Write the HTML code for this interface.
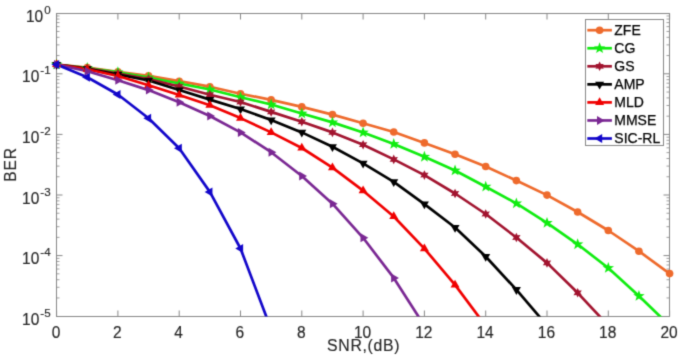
<!DOCTYPE html>
<html><head><meta charset="utf-8"><title>BER vs SNR</title>
<style>html,body{margin:0;padding:0;background:#fff;}body{width:685px;height:359px;overflow:hidden;font-family:"Liberation Sans",sans-serif;}svg{display:block;}</style>
</head><body>
<svg width="685" height="359" viewBox="0 0 685 359" font-family="'Liberation Sans', sans-serif">
<defs><filter id="bl" x="0" y="0" width="100%" height="100%" color-interpolation-filters="sRGB"><feConvolveMatrix order="3" kernelMatrix="0.02250 0.10500 0.02250 0.10500 0.49000 0.10500 0.02250 0.10500 0.02250" divisor="1" edgeMode="duplicate"/></filter><clipPath id="clip"><rect x="56.5" y="13.5" width="613.0" height="303.0"/></clipPath></defs>
<rect width="685" height="359" fill="#fff"/>
<g filter="url(#bl)" stroke-linecap="butt">
<rect width="685" height="359" fill="#fff"/>
<rect x="56.5" y="13.5" width="613.0" height="303.0" fill="#fff" stroke="#878787" stroke-width="1"/>
<line x1="56.60" y1="316.5" x2="56.60" y2="310.5" stroke="#878787" stroke-width="1"/>
<line x1="56.60" y1="13.5" x2="56.60" y2="19.5" stroke="#878787" stroke-width="1"/>
<line x1="117.90" y1="316.5" x2="117.90" y2="310.5" stroke="#878787" stroke-width="1"/>
<line x1="117.90" y1="13.5" x2="117.90" y2="19.5" stroke="#878787" stroke-width="1"/>
<line x1="179.20" y1="316.5" x2="179.20" y2="310.5" stroke="#878787" stroke-width="1"/>
<line x1="179.20" y1="13.5" x2="179.20" y2="19.5" stroke="#878787" stroke-width="1"/>
<line x1="240.50" y1="316.5" x2="240.50" y2="310.5" stroke="#878787" stroke-width="1"/>
<line x1="240.50" y1="13.5" x2="240.50" y2="19.5" stroke="#878787" stroke-width="1"/>
<line x1="301.80" y1="316.5" x2="301.80" y2="310.5" stroke="#878787" stroke-width="1"/>
<line x1="301.80" y1="13.5" x2="301.80" y2="19.5" stroke="#878787" stroke-width="1"/>
<line x1="363.10" y1="316.5" x2="363.10" y2="310.5" stroke="#878787" stroke-width="1"/>
<line x1="363.10" y1="13.5" x2="363.10" y2="19.5" stroke="#878787" stroke-width="1"/>
<line x1="424.40" y1="316.5" x2="424.40" y2="310.5" stroke="#878787" stroke-width="1"/>
<line x1="424.40" y1="13.5" x2="424.40" y2="19.5" stroke="#878787" stroke-width="1"/>
<line x1="485.70" y1="316.5" x2="485.70" y2="310.5" stroke="#878787" stroke-width="1"/>
<line x1="485.70" y1="13.5" x2="485.70" y2="19.5" stroke="#878787" stroke-width="1"/>
<line x1="547.00" y1="316.5" x2="547.00" y2="310.5" stroke="#878787" stroke-width="1"/>
<line x1="547.00" y1="13.5" x2="547.00" y2="19.5" stroke="#878787" stroke-width="1"/>
<line x1="608.30" y1="316.5" x2="608.30" y2="310.5" stroke="#878787" stroke-width="1"/>
<line x1="608.30" y1="13.5" x2="608.30" y2="19.5" stroke="#878787" stroke-width="1"/>
<line x1="669.60" y1="316.5" x2="669.60" y2="310.5" stroke="#878787" stroke-width="1"/>
<line x1="669.60" y1="13.5" x2="669.60" y2="19.5" stroke="#878787" stroke-width="1"/>
<line x1="56.5" y1="13.50" x2="62.5" y2="13.50" stroke="#878787" stroke-width="1"/>
<line x1="669.5" y1="13.50" x2="663.5" y2="13.50" stroke="#878787" stroke-width="1"/>
<line x1="56.5" y1="55.56" x2="59.5" y2="55.56" stroke="#878787" stroke-width="0.8"/>
<line x1="669.5" y1="55.56" x2="666.5" y2="55.56" stroke="#878787" stroke-width="0.8"/>
<line x1="56.5" y1="44.89" x2="59.5" y2="44.89" stroke="#878787" stroke-width="0.8"/>
<line x1="669.5" y1="44.89" x2="666.5" y2="44.89" stroke="#878787" stroke-width="0.8"/>
<line x1="56.5" y1="37.32" x2="59.5" y2="37.32" stroke="#878787" stroke-width="0.8"/>
<line x1="669.5" y1="37.32" x2="666.5" y2="37.32" stroke="#878787" stroke-width="0.8"/>
<line x1="56.5" y1="31.44" x2="59.5" y2="31.44" stroke="#878787" stroke-width="0.8"/>
<line x1="669.5" y1="31.44" x2="666.5" y2="31.44" stroke="#878787" stroke-width="0.8"/>
<line x1="56.5" y1="26.64" x2="59.5" y2="26.64" stroke="#878787" stroke-width="0.8"/>
<line x1="669.5" y1="26.64" x2="666.5" y2="26.64" stroke="#878787" stroke-width="0.8"/>
<line x1="56.5" y1="22.59" x2="59.5" y2="22.59" stroke="#878787" stroke-width="0.8"/>
<line x1="669.5" y1="22.59" x2="666.5" y2="22.59" stroke="#878787" stroke-width="0.8"/>
<line x1="56.5" y1="19.07" x2="59.5" y2="19.07" stroke="#878787" stroke-width="0.8"/>
<line x1="669.5" y1="19.07" x2="666.5" y2="19.07" stroke="#878787" stroke-width="0.8"/>
<line x1="56.5" y1="15.97" x2="59.5" y2="15.97" stroke="#878787" stroke-width="0.8"/>
<line x1="669.5" y1="15.97" x2="666.5" y2="15.97" stroke="#878787" stroke-width="0.8"/>
<line x1="56.5" y1="73.80" x2="62.5" y2="73.80" stroke="#878787" stroke-width="1"/>
<line x1="669.5" y1="73.80" x2="663.5" y2="73.80" stroke="#878787" stroke-width="1"/>
<line x1="56.5" y1="116.16" x2="59.5" y2="116.16" stroke="#878787" stroke-width="0.8"/>
<line x1="669.5" y1="116.16" x2="666.5" y2="116.16" stroke="#878787" stroke-width="0.8"/>
<line x1="56.5" y1="105.49" x2="59.5" y2="105.49" stroke="#878787" stroke-width="0.8"/>
<line x1="669.5" y1="105.49" x2="666.5" y2="105.49" stroke="#878787" stroke-width="0.8"/>
<line x1="56.5" y1="97.92" x2="59.5" y2="97.92" stroke="#878787" stroke-width="0.8"/>
<line x1="669.5" y1="97.92" x2="666.5" y2="97.92" stroke="#878787" stroke-width="0.8"/>
<line x1="56.5" y1="92.04" x2="59.5" y2="92.04" stroke="#878787" stroke-width="0.8"/>
<line x1="669.5" y1="92.04" x2="666.5" y2="92.04" stroke="#878787" stroke-width="0.8"/>
<line x1="56.5" y1="87.24" x2="59.5" y2="87.24" stroke="#878787" stroke-width="0.8"/>
<line x1="669.5" y1="87.24" x2="666.5" y2="87.24" stroke="#878787" stroke-width="0.8"/>
<line x1="56.5" y1="83.19" x2="59.5" y2="83.19" stroke="#878787" stroke-width="0.8"/>
<line x1="669.5" y1="83.19" x2="666.5" y2="83.19" stroke="#878787" stroke-width="0.8"/>
<line x1="56.5" y1="79.67" x2="59.5" y2="79.67" stroke="#878787" stroke-width="0.8"/>
<line x1="669.5" y1="79.67" x2="666.5" y2="79.67" stroke="#878787" stroke-width="0.8"/>
<line x1="56.5" y1="76.57" x2="59.5" y2="76.57" stroke="#878787" stroke-width="0.8"/>
<line x1="669.5" y1="76.57" x2="666.5" y2="76.57" stroke="#878787" stroke-width="0.8"/>
<line x1="56.5" y1="134.40" x2="62.5" y2="134.40" stroke="#878787" stroke-width="1"/>
<line x1="669.5" y1="134.40" x2="663.5" y2="134.40" stroke="#878787" stroke-width="1"/>
<line x1="56.5" y1="176.76" x2="59.5" y2="176.76" stroke="#878787" stroke-width="0.8"/>
<line x1="669.5" y1="176.76" x2="666.5" y2="176.76" stroke="#878787" stroke-width="0.8"/>
<line x1="56.5" y1="166.09" x2="59.5" y2="166.09" stroke="#878787" stroke-width="0.8"/>
<line x1="669.5" y1="166.09" x2="666.5" y2="166.09" stroke="#878787" stroke-width="0.8"/>
<line x1="56.5" y1="158.52" x2="59.5" y2="158.52" stroke="#878787" stroke-width="0.8"/>
<line x1="669.5" y1="158.52" x2="666.5" y2="158.52" stroke="#878787" stroke-width="0.8"/>
<line x1="56.5" y1="152.64" x2="59.5" y2="152.64" stroke="#878787" stroke-width="0.8"/>
<line x1="669.5" y1="152.64" x2="666.5" y2="152.64" stroke="#878787" stroke-width="0.8"/>
<line x1="56.5" y1="147.84" x2="59.5" y2="147.84" stroke="#878787" stroke-width="0.8"/>
<line x1="669.5" y1="147.84" x2="666.5" y2="147.84" stroke="#878787" stroke-width="0.8"/>
<line x1="56.5" y1="143.79" x2="59.5" y2="143.79" stroke="#878787" stroke-width="0.8"/>
<line x1="669.5" y1="143.79" x2="666.5" y2="143.79" stroke="#878787" stroke-width="0.8"/>
<line x1="56.5" y1="140.27" x2="59.5" y2="140.27" stroke="#878787" stroke-width="0.8"/>
<line x1="669.5" y1="140.27" x2="666.5" y2="140.27" stroke="#878787" stroke-width="0.8"/>
<line x1="56.5" y1="137.17" x2="59.5" y2="137.17" stroke="#878787" stroke-width="0.8"/>
<line x1="669.5" y1="137.17" x2="666.5" y2="137.17" stroke="#878787" stroke-width="0.8"/>
<line x1="56.5" y1="195.00" x2="62.5" y2="195.00" stroke="#878787" stroke-width="1"/>
<line x1="669.5" y1="195.00" x2="663.5" y2="195.00" stroke="#878787" stroke-width="1"/>
<line x1="56.5" y1="237.36" x2="59.5" y2="237.36" stroke="#878787" stroke-width="0.8"/>
<line x1="669.5" y1="237.36" x2="666.5" y2="237.36" stroke="#878787" stroke-width="0.8"/>
<line x1="56.5" y1="226.69" x2="59.5" y2="226.69" stroke="#878787" stroke-width="0.8"/>
<line x1="669.5" y1="226.69" x2="666.5" y2="226.69" stroke="#878787" stroke-width="0.8"/>
<line x1="56.5" y1="219.12" x2="59.5" y2="219.12" stroke="#878787" stroke-width="0.8"/>
<line x1="669.5" y1="219.12" x2="666.5" y2="219.12" stroke="#878787" stroke-width="0.8"/>
<line x1="56.5" y1="213.24" x2="59.5" y2="213.24" stroke="#878787" stroke-width="0.8"/>
<line x1="669.5" y1="213.24" x2="666.5" y2="213.24" stroke="#878787" stroke-width="0.8"/>
<line x1="56.5" y1="208.44" x2="59.5" y2="208.44" stroke="#878787" stroke-width="0.8"/>
<line x1="669.5" y1="208.44" x2="666.5" y2="208.44" stroke="#878787" stroke-width="0.8"/>
<line x1="56.5" y1="204.39" x2="59.5" y2="204.39" stroke="#878787" stroke-width="0.8"/>
<line x1="669.5" y1="204.39" x2="666.5" y2="204.39" stroke="#878787" stroke-width="0.8"/>
<line x1="56.5" y1="200.87" x2="59.5" y2="200.87" stroke="#878787" stroke-width="0.8"/>
<line x1="669.5" y1="200.87" x2="666.5" y2="200.87" stroke="#878787" stroke-width="0.8"/>
<line x1="56.5" y1="197.77" x2="59.5" y2="197.77" stroke="#878787" stroke-width="0.8"/>
<line x1="669.5" y1="197.77" x2="666.5" y2="197.77" stroke="#878787" stroke-width="0.8"/>
<line x1="56.5" y1="255.60" x2="62.5" y2="255.60" stroke="#878787" stroke-width="1"/>
<line x1="669.5" y1="255.60" x2="663.5" y2="255.60" stroke="#878787" stroke-width="1"/>
<line x1="56.5" y1="297.96" x2="59.5" y2="297.96" stroke="#878787" stroke-width="0.8"/>
<line x1="669.5" y1="297.96" x2="666.5" y2="297.96" stroke="#878787" stroke-width="0.8"/>
<line x1="56.5" y1="287.29" x2="59.5" y2="287.29" stroke="#878787" stroke-width="0.8"/>
<line x1="669.5" y1="287.29" x2="666.5" y2="287.29" stroke="#878787" stroke-width="0.8"/>
<line x1="56.5" y1="279.72" x2="59.5" y2="279.72" stroke="#878787" stroke-width="0.8"/>
<line x1="669.5" y1="279.72" x2="666.5" y2="279.72" stroke="#878787" stroke-width="0.8"/>
<line x1="56.5" y1="273.84" x2="59.5" y2="273.84" stroke="#878787" stroke-width="0.8"/>
<line x1="669.5" y1="273.84" x2="666.5" y2="273.84" stroke="#878787" stroke-width="0.8"/>
<line x1="56.5" y1="269.04" x2="59.5" y2="269.04" stroke="#878787" stroke-width="0.8"/>
<line x1="669.5" y1="269.04" x2="666.5" y2="269.04" stroke="#878787" stroke-width="0.8"/>
<line x1="56.5" y1="264.99" x2="59.5" y2="264.99" stroke="#878787" stroke-width="0.8"/>
<line x1="669.5" y1="264.99" x2="666.5" y2="264.99" stroke="#878787" stroke-width="0.8"/>
<line x1="56.5" y1="261.47" x2="59.5" y2="261.47" stroke="#878787" stroke-width="0.8"/>
<line x1="669.5" y1="261.47" x2="666.5" y2="261.47" stroke="#878787" stroke-width="0.8"/>
<line x1="56.5" y1="258.37" x2="59.5" y2="258.37" stroke="#878787" stroke-width="0.8"/>
<line x1="669.5" y1="258.37" x2="666.5" y2="258.37" stroke="#878787" stroke-width="0.8"/>
<line x1="56.5" y1="316.50" x2="62.5" y2="316.50" stroke="#878787" stroke-width="1"/>
<line x1="669.5" y1="316.50" x2="663.5" y2="316.50" stroke="#878787" stroke-width="1"/>
<g clip-path="url(#clip)" fill="none" stroke-width="2.7" stroke-linejoin="round">
<polyline points="56.60,64.50 87.25,67.50 117.90,71.80 148.55,75.80 179.20,81.20 209.85,86.70 240.50,93.70 271.15,99.90 301.80,106.90 332.45,114.60 363.10,123.30 393.75,132.00 424.40,142.90 455.05,154.20 485.70,166.50 516.35,180.60 547.00,195.10 577.65,212.00 608.30,230.50 638.95,251.20 669.60,273.60" stroke="#EE6A2C"/>
<polyline points="56.60,64.50 87.25,68.00 117.90,72.30 148.55,77.50 179.20,83.50 209.85,89.50 240.50,97.20 271.15,104.50 301.80,113.50 332.45,122.40 363.10,132.50 393.75,144.00 424.40,156.80 455.05,170.50 485.70,186.70 516.35,203.40 547.00,222.90 577.65,244.30 608.30,268.00 638.95,296.00 669.60,325.60" stroke="#10EC10"/>
<polyline points="56.60,64.50 87.25,68.30 117.90,73.50 148.55,79.10 179.20,86.50 209.85,94.70 240.50,102.00 271.15,111.90 301.80,121.80 332.45,132.40 363.10,144.70 393.75,159.40 424.40,175.10 455.05,193.50 485.70,214.00 516.35,237.50 547.00,262.90 577.65,292.80 608.30,325.60" stroke="#A2142F"/>
<polyline points="56.60,64.50 87.25,68.80 117.90,74.50 148.55,80.50 179.20,90.00 209.85,99.60 240.50,109.00 271.15,120.00 301.80,132.40 332.45,146.80 363.10,163.40 393.75,181.80 424.40,204.10 455.05,227.50 485.70,256.50 516.35,289.70 547.00,325.50" stroke="#000000"/>
<polyline points="56.60,64.50 87.25,69.30 117.90,76.00 148.55,85.30 179.20,95.00 209.85,105.20 240.50,118.10 271.15,132.40 301.80,148.00 332.45,167.60 363.10,190.70 393.75,216.50 424.40,248.60 455.05,284.90 485.70,325.90" stroke="#F00000"/>
<polyline points="56.60,64.50 87.25,71.20 117.90,80.30 148.55,90.10 179.20,102.20 209.85,116.00 240.50,132.40 271.15,152.20 301.80,176.00 332.45,203.70 363.10,237.80 393.75,277.90 424.40,325.80" stroke="#7A2893"/>
<polyline points="56.60,64.50 87.25,77.20 117.90,94.50 148.55,118.20 179.20,148.30 209.85,191.90 240.50,248.50 271.15,329.30" stroke="#1206CA"/>
</g>
<circle cx="56.60" cy="64.50" r="3.8" fill="#EE6A2C"/>
<circle cx="87.25" cy="67.50" r="3.8" fill="#EE6A2C"/>
<circle cx="117.90" cy="71.80" r="3.8" fill="#EE6A2C"/>
<circle cx="148.55" cy="75.80" r="3.8" fill="#EE6A2C"/>
<circle cx="179.20" cy="81.20" r="3.8" fill="#EE6A2C"/>
<circle cx="209.85" cy="86.70" r="3.8" fill="#EE6A2C"/>
<circle cx="240.50" cy="93.70" r="3.8" fill="#EE6A2C"/>
<circle cx="271.15" cy="99.90" r="3.8" fill="#EE6A2C"/>
<circle cx="301.80" cy="106.90" r="3.8" fill="#EE6A2C"/>
<circle cx="332.45" cy="114.60" r="3.8" fill="#EE6A2C"/>
<circle cx="363.10" cy="123.30" r="3.8" fill="#EE6A2C"/>
<circle cx="393.75" cy="132.00" r="3.8" fill="#EE6A2C"/>
<circle cx="424.40" cy="142.90" r="3.8" fill="#EE6A2C"/>
<circle cx="455.05" cy="154.20" r="3.8" fill="#EE6A2C"/>
<circle cx="485.70" cy="166.50" r="3.8" fill="#EE6A2C"/>
<circle cx="516.35" cy="180.60" r="3.8" fill="#EE6A2C"/>
<circle cx="547.00" cy="195.10" r="3.8" fill="#EE6A2C"/>
<circle cx="577.65" cy="212.00" r="3.8" fill="#EE6A2C"/>
<circle cx="608.30" cy="230.50" r="3.8" fill="#EE6A2C"/>
<circle cx="638.95" cy="251.20" r="3.8" fill="#EE6A2C"/>
<circle cx="669.60" cy="273.60" r="3.8" fill="#EE6A2C"/>
<polygon points="56.60,58.50 58.01,62.56 62.31,62.65 58.88,65.24 60.13,69.35 56.60,66.90 53.07,69.35 54.32,65.24 50.89,62.65 55.19,62.56" fill="#10EC10"/>
<polygon points="87.25,62.00 88.66,66.06 92.96,66.15 89.53,68.74 90.78,72.85 87.25,70.40 83.72,72.85 84.97,68.74 81.54,66.15 85.84,66.06" fill="#10EC10"/>
<polygon points="117.90,66.30 119.31,70.36 123.61,70.45 120.18,73.04 121.43,77.15 117.90,74.70 114.37,77.15 115.62,73.04 112.19,70.45 116.49,70.36" fill="#10EC10"/>
<polygon points="148.55,71.50 149.96,75.56 154.26,75.65 150.83,78.24 152.08,82.35 148.55,79.90 145.02,82.35 146.27,78.24 142.84,75.65 147.14,75.56" fill="#10EC10"/>
<polygon points="179.20,77.50 180.61,81.56 184.91,81.65 181.48,84.24 182.73,88.35 179.20,85.90 175.67,88.35 176.92,84.24 173.49,81.65 177.79,81.56" fill="#10EC10"/>
<polygon points="209.85,83.50 211.26,87.56 215.56,87.65 212.13,90.24 213.38,94.35 209.85,91.90 206.32,94.35 207.57,90.24 204.14,87.65 208.44,87.56" fill="#10EC10"/>
<polygon points="240.50,91.20 241.91,95.26 246.21,95.35 242.78,97.94 244.03,102.05 240.50,99.60 236.97,102.05 238.22,97.94 234.79,95.35 239.09,95.26" fill="#10EC10"/>
<polygon points="271.15,98.50 272.56,102.56 276.86,102.65 273.43,105.24 274.68,109.35 271.15,106.90 267.62,109.35 268.87,105.24 265.44,102.65 269.74,102.56" fill="#10EC10"/>
<polygon points="301.80,107.50 303.21,111.56 307.51,111.65 304.08,114.24 305.33,118.35 301.80,115.90 298.27,118.35 299.52,114.24 296.09,111.65 300.39,111.56" fill="#10EC10"/>
<polygon points="332.45,116.40 333.86,120.46 338.16,120.55 334.73,123.14 335.98,127.25 332.45,124.80 328.92,127.25 330.17,123.14 326.74,120.55 331.04,120.46" fill="#10EC10"/>
<polygon points="363.10,126.50 364.51,130.56 368.81,130.65 365.38,133.24 366.63,137.35 363.10,134.90 359.57,137.35 360.82,133.24 357.39,130.65 361.69,130.56" fill="#10EC10"/>
<polygon points="393.75,138.00 395.16,142.06 399.46,142.15 396.03,144.74 397.28,148.85 393.75,146.40 390.22,148.85 391.47,144.74 388.04,142.15 392.34,142.06" fill="#10EC10"/>
<polygon points="424.40,150.80 425.81,154.86 430.11,154.95 426.68,157.54 427.93,161.65 424.40,159.20 420.87,161.65 422.12,157.54 418.69,154.95 422.99,154.86" fill="#10EC10"/>
<polygon points="455.05,164.50 456.46,168.56 460.76,168.65 457.33,171.24 458.58,175.35 455.05,172.90 451.52,175.35 452.77,171.24 449.34,168.65 453.64,168.56" fill="#10EC10"/>
<polygon points="485.70,180.70 487.11,184.76 491.41,184.85 487.98,187.44 489.23,191.55 485.70,189.10 482.17,191.55 483.42,187.44 479.99,184.85 484.29,184.76" fill="#10EC10"/>
<polygon points="516.35,197.40 517.76,201.46 522.06,201.55 518.63,204.14 519.88,208.25 516.35,205.80 512.82,208.25 514.07,204.14 510.64,201.55 514.94,201.46" fill="#10EC10"/>
<polygon points="547.00,216.90 548.41,220.96 552.71,221.05 549.28,223.64 550.53,227.75 547.00,225.30 543.47,227.75 544.72,223.64 541.29,221.05 545.59,220.96" fill="#10EC10"/>
<polygon points="577.65,238.30 579.06,242.36 583.36,242.45 579.93,245.04 581.18,249.15 577.65,246.70 574.12,249.15 575.37,245.04 571.94,242.45 576.24,242.36" fill="#10EC10"/>
<polygon points="608.30,262.00 609.71,266.06 614.01,266.15 610.58,268.74 611.83,272.85 608.30,270.40 604.77,272.85 606.02,268.74 602.59,266.15 606.89,266.06" fill="#10EC10"/>
<polygon points="638.95,290.00 640.36,294.06 644.66,294.15 641.23,296.74 642.48,300.85 638.95,298.40 635.42,300.85 636.67,296.74 633.24,294.15 637.54,294.06" fill="#10EC10"/>
<polygon points="56.60,59.70 57.90,62.25 60.76,62.10 59.20,64.50 60.76,66.90 57.90,66.75 56.60,69.30 55.30,66.75 52.44,66.90 54.00,64.50 52.44,62.10 55.30,62.25" fill="#A2142F"/>
<polygon points="87.25,63.50 88.55,66.05 91.41,65.90 89.85,68.30 91.41,70.70 88.55,70.55 87.25,73.10 85.95,70.55 83.09,70.70 84.65,68.30 83.09,65.90 85.95,66.05" fill="#A2142F"/>
<polygon points="117.90,68.70 119.20,71.25 122.06,71.10 120.50,73.50 122.06,75.90 119.20,75.75 117.90,78.30 116.60,75.75 113.74,75.90 115.30,73.50 113.74,71.10 116.60,71.25" fill="#A2142F"/>
<polygon points="148.55,74.30 149.85,76.85 152.71,76.70 151.15,79.10 152.71,81.50 149.85,81.35 148.55,83.90 147.25,81.35 144.39,81.50 145.95,79.10 144.39,76.70 147.25,76.85" fill="#A2142F"/>
<polygon points="179.20,81.70 180.50,84.25 183.36,84.10 181.80,86.50 183.36,88.90 180.50,88.75 179.20,91.30 177.90,88.75 175.04,88.90 176.60,86.50 175.04,84.10 177.90,84.25" fill="#A2142F"/>
<polygon points="209.85,89.90 211.15,92.45 214.01,92.30 212.45,94.70 214.01,97.10 211.15,96.95 209.85,99.50 208.55,96.95 205.69,97.10 207.25,94.70 205.69,92.30 208.55,92.45" fill="#A2142F"/>
<polygon points="240.50,97.20 241.80,99.75 244.66,99.60 243.10,102.00 244.66,104.40 241.80,104.25 240.50,106.80 239.20,104.25 236.34,104.40 237.90,102.00 236.34,99.60 239.20,99.75" fill="#A2142F"/>
<polygon points="271.15,107.10 272.45,109.65 275.31,109.50 273.75,111.90 275.31,114.30 272.45,114.15 271.15,116.70 269.85,114.15 266.99,114.30 268.55,111.90 266.99,109.50 269.85,109.65" fill="#A2142F"/>
<polygon points="301.80,117.00 303.10,119.55 305.96,119.40 304.40,121.80 305.96,124.20 303.10,124.05 301.80,126.60 300.50,124.05 297.64,124.20 299.20,121.80 297.64,119.40 300.50,119.55" fill="#A2142F"/>
<polygon points="332.45,127.60 333.75,130.15 336.61,130.00 335.05,132.40 336.61,134.80 333.75,134.65 332.45,137.20 331.15,134.65 328.29,134.80 329.85,132.40 328.29,130.00 331.15,130.15" fill="#A2142F"/>
<polygon points="363.10,139.90 364.40,142.45 367.26,142.30 365.70,144.70 367.26,147.10 364.40,146.95 363.10,149.50 361.80,146.95 358.94,147.10 360.50,144.70 358.94,142.30 361.80,142.45" fill="#A2142F"/>
<polygon points="393.75,154.60 395.05,157.15 397.91,157.00 396.35,159.40 397.91,161.80 395.05,161.65 393.75,164.20 392.45,161.65 389.59,161.80 391.15,159.40 389.59,157.00 392.45,157.15" fill="#A2142F"/>
<polygon points="424.40,170.30 425.70,172.85 428.56,172.70 427.00,175.10 428.56,177.50 425.70,177.35 424.40,179.90 423.10,177.35 420.24,177.50 421.80,175.10 420.24,172.70 423.10,172.85" fill="#A2142F"/>
<polygon points="455.05,188.70 456.35,191.25 459.21,191.10 457.65,193.50 459.21,195.90 456.35,195.75 455.05,198.30 453.75,195.75 450.89,195.90 452.45,193.50 450.89,191.10 453.75,191.25" fill="#A2142F"/>
<polygon points="485.70,209.20 487.00,211.75 489.86,211.60 488.30,214.00 489.86,216.40 487.00,216.25 485.70,218.80 484.40,216.25 481.54,216.40 483.10,214.00 481.54,211.60 484.40,211.75" fill="#A2142F"/>
<polygon points="516.35,232.70 517.65,235.25 520.51,235.10 518.95,237.50 520.51,239.90 517.65,239.75 516.35,242.30 515.05,239.75 512.19,239.90 513.75,237.50 512.19,235.10 515.05,235.25" fill="#A2142F"/>
<polygon points="547.00,258.10 548.30,260.65 551.16,260.50 549.60,262.90 551.16,265.30 548.30,265.15 547.00,267.70 545.70,265.15 542.84,265.30 544.40,262.90 542.84,260.50 545.70,260.65" fill="#A2142F"/>
<polygon points="577.65,288.00 578.95,290.55 581.81,290.40 580.25,292.80 581.81,295.20 578.95,295.05 577.65,297.60 576.35,295.05 573.49,295.20 575.05,292.80 573.49,290.40 576.35,290.55" fill="#A2142F"/>
<polygon points="56.60,69.70 61.10,61.90 52.10,61.90" fill="#000000"/>
<polygon points="87.25,74.00 91.75,66.20 82.75,66.20" fill="#000000"/>
<polygon points="117.90,79.70 122.40,71.90 113.40,71.90" fill="#000000"/>
<polygon points="148.55,85.70 153.05,77.90 144.05,77.90" fill="#000000"/>
<polygon points="179.20,95.20 183.70,87.40 174.70,87.40" fill="#000000"/>
<polygon points="209.85,104.80 214.35,97.00 205.35,97.00" fill="#000000"/>
<polygon points="240.50,114.20 245.00,106.40 236.00,106.40" fill="#000000"/>
<polygon points="271.15,125.20 275.65,117.40 266.65,117.40" fill="#000000"/>
<polygon points="301.80,137.60 306.30,129.80 297.30,129.80" fill="#000000"/>
<polygon points="332.45,152.00 336.95,144.20 327.95,144.20" fill="#000000"/>
<polygon points="363.10,168.60 367.60,160.80 358.60,160.80" fill="#000000"/>
<polygon points="393.75,187.00 398.25,179.20 389.25,179.20" fill="#000000"/>
<polygon points="424.40,209.30 428.90,201.50 419.90,201.50" fill="#000000"/>
<polygon points="455.05,232.70 459.55,224.90 450.55,224.90" fill="#000000"/>
<polygon points="485.70,261.70 490.20,253.90 481.20,253.90" fill="#000000"/>
<polygon points="516.35,294.90 520.85,287.10 511.85,287.10" fill="#000000"/>
<polygon points="56.60,59.30 61.10,67.10 52.10,67.10" fill="#F00000"/>
<polygon points="87.25,64.10 91.75,71.90 82.75,71.90" fill="#F00000"/>
<polygon points="117.90,70.80 122.40,78.60 113.40,78.60" fill="#F00000"/>
<polygon points="148.55,80.10 153.05,87.90 144.05,87.90" fill="#F00000"/>
<polygon points="179.20,89.80 183.70,97.60 174.70,97.60" fill="#F00000"/>
<polygon points="209.85,100.00 214.35,107.80 205.35,107.80" fill="#F00000"/>
<polygon points="240.50,112.90 245.00,120.70 236.00,120.70" fill="#F00000"/>
<polygon points="271.15,127.20 275.65,135.00 266.65,135.00" fill="#F00000"/>
<polygon points="301.80,142.80 306.30,150.60 297.30,150.60" fill="#F00000"/>
<polygon points="332.45,162.40 336.95,170.20 327.95,170.20" fill="#F00000"/>
<polygon points="363.10,185.50 367.60,193.30 358.60,193.30" fill="#F00000"/>
<polygon points="393.75,211.30 398.25,219.10 389.25,219.10" fill="#F00000"/>
<polygon points="424.40,243.40 428.90,251.20 419.90,251.20" fill="#F00000"/>
<polygon points="455.05,279.70 459.55,287.50 450.55,287.50" fill="#F00000"/>
<polygon points="61.80,64.50 54.00,60.00 54.00,69.00" fill="#7A2893"/>
<polygon points="92.45,71.20 84.65,66.70 84.65,75.70" fill="#7A2893"/>
<polygon points="123.10,80.30 115.30,75.80 115.30,84.80" fill="#7A2893"/>
<polygon points="153.75,90.10 145.95,85.60 145.95,94.60" fill="#7A2893"/>
<polygon points="184.40,102.20 176.60,97.70 176.60,106.70" fill="#7A2893"/>
<polygon points="215.05,116.00 207.25,111.50 207.25,120.50" fill="#7A2893"/>
<polygon points="245.70,132.40 237.90,127.90 237.90,136.90" fill="#7A2893"/>
<polygon points="276.35,152.20 268.55,147.70 268.55,156.70" fill="#7A2893"/>
<polygon points="307.00,176.00 299.20,171.50 299.20,180.50" fill="#7A2893"/>
<polygon points="337.65,203.70 329.85,199.20 329.85,208.20" fill="#7A2893"/>
<polygon points="368.30,237.80 360.50,233.30 360.50,242.30" fill="#7A2893"/>
<polygon points="398.95,277.90 391.15,273.40 391.15,282.40" fill="#7A2893"/>
<polygon points="51.40,64.50 59.20,60.00 59.20,69.00" fill="#1206CA"/>
<polygon points="82.05,77.20 89.85,72.70 89.85,81.70" fill="#1206CA"/>
<polygon points="112.70,94.50 120.50,90.00 120.50,99.00" fill="#1206CA"/>
<polygon points="143.35,118.20 151.15,113.70 151.15,122.70" fill="#1206CA"/>
<polygon points="174.00,148.30 181.80,143.80 181.80,152.80" fill="#1206CA"/>
<polygon points="204.65,191.90 212.45,187.40 212.45,196.40" fill="#1206CA"/>
<polygon points="235.30,248.50 243.10,244.00 243.10,253.00" fill="#1206CA"/>
<text transform="translate(56.00,338.2) scale(1,1.07)" text-anchor="middle" font-size="15.5" fill="#262626" stroke="#262626" stroke-width="0.15">0</text>
<text transform="translate(117.30,338.2) scale(1,1.07)" text-anchor="middle" font-size="15.5" fill="#262626" stroke="#262626" stroke-width="0.15">2</text>
<text transform="translate(178.60,338.2) scale(1,1.07)" text-anchor="middle" font-size="15.5" fill="#262626" stroke="#262626" stroke-width="0.15">4</text>
<text transform="translate(239.90,338.2) scale(1,1.07)" text-anchor="middle" font-size="15.5" fill="#262626" stroke="#262626" stroke-width="0.15">6</text>
<text transform="translate(301.20,338.2) scale(1,1.07)" text-anchor="middle" font-size="15.5" fill="#262626" stroke="#262626" stroke-width="0.15">8</text>
<text transform="translate(362.50,338.2) scale(1,1.07)" text-anchor="middle" font-size="15.5" fill="#262626" stroke="#262626" stroke-width="0.15">10</text>
<text transform="translate(423.80,338.2) scale(1,1.07)" text-anchor="middle" font-size="15.5" fill="#262626" stroke="#262626" stroke-width="0.15">12</text>
<text transform="translate(485.10,338.2) scale(1,1.07)" text-anchor="middle" font-size="15.5" fill="#262626" stroke="#262626" stroke-width="0.15">14</text>
<text transform="translate(546.40,338.2) scale(1,1.07)" text-anchor="middle" font-size="15.5" fill="#262626" stroke="#262626" stroke-width="0.15">16</text>
<text transform="translate(607.70,338.2) scale(1,1.07)" text-anchor="middle" font-size="15.5" fill="#262626" stroke="#262626" stroke-width="0.15">18</text>
<text transform="translate(669.00,338.2) scale(1,1.07)" text-anchor="middle" font-size="15.5" fill="#262626" stroke="#262626" stroke-width="0.15">20</text>
<text transform="translate(43.15,21.80) scale(1,1.1)" text-anchor="end" font-size="15.5" fill="#262626" stroke="#262626" stroke-width="0.15">10</text>
<text x="50.6" y="13.80" text-anchor="end" font-size="11.6" fill="#262626" stroke="#262626" stroke-width="0.15">0</text>
<text transform="translate(39.29,82.40) scale(1,1.1)" text-anchor="end" font-size="15.5" fill="#262626" stroke="#262626" stroke-width="0.15">10</text>
<text x="50.6" y="74.40" text-anchor="end" font-size="11.6" fill="#262626" stroke="#262626" stroke-width="0.15">-1</text>
<text transform="translate(39.29,143.00) scale(1,1.1)" text-anchor="end" font-size="15.5" fill="#262626" stroke="#262626" stroke-width="0.15">10</text>
<text x="50.6" y="135.00" text-anchor="end" font-size="11.6" fill="#262626" stroke="#262626" stroke-width="0.15">-2</text>
<text transform="translate(39.29,203.60) scale(1,1.1)" text-anchor="end" font-size="15.5" fill="#262626" stroke="#262626" stroke-width="0.15">10</text>
<text x="50.6" y="195.60" text-anchor="end" font-size="11.6" fill="#262626" stroke="#262626" stroke-width="0.15">-3</text>
<text transform="translate(39.29,264.20) scale(1,1.1)" text-anchor="end" font-size="15.5" fill="#262626" stroke="#262626" stroke-width="0.15">10</text>
<text x="50.6" y="256.20" text-anchor="end" font-size="11.6" fill="#262626" stroke="#262626" stroke-width="0.15">-4</text>
<text transform="translate(39.29,324.80) scale(1,1.1)" text-anchor="end" font-size="15.5" fill="#262626" stroke="#262626" stroke-width="0.15">10</text>
<text x="50.6" y="316.80" text-anchor="end" font-size="11.6" fill="#262626" stroke="#262626" stroke-width="0.15">-5</text>
<text x="327.0" y="350.8" font-size="15.8" textLength="72.6" lengthAdjust="spacing" fill="#262626" stroke="#262626" stroke-width="0.15">SNR,(dB)</text>
<text transform="translate(15.7,181.7) rotate(-90)" font-size="15.6" textLength="33.8" lengthAdjust="spacing" fill="#262626" stroke="#262626" stroke-width="0.15">BER</text>
<rect x="585.5" y="19.5" width="78.0" height="126.0" fill="#fff" stroke="#878787" stroke-width="1"/>
<line x1="587.3" y1="30.20" x2="611.9" y2="30.20" stroke="#EE6A2C" stroke-width="2.7"/>
<circle cx="599.60" cy="30.20" r="3.8" fill="#EE6A2C"/>
<text x="614.3" y="35.00" font-size="14" fill="#000" stroke="#000" stroke-width="0.25">ZFE</text>
<line x1="587.3" y1="48.25" x2="611.9" y2="48.25" stroke="#10EC10" stroke-width="2.7"/>
<polygon points="599.60,42.25 601.01,46.31 605.31,46.40 601.88,48.99 603.13,53.10 599.60,50.65 596.07,53.10 597.32,48.99 593.89,46.40 598.19,46.31" fill="#10EC10"/>
<text x="614.3" y="53.05" font-size="14" fill="#000" stroke="#000" stroke-width="0.25">CG</text>
<line x1="587.3" y1="66.30" x2="611.9" y2="66.30" stroke="#A2142F" stroke-width="2.7"/>
<polygon points="599.60,61.50 600.90,64.05 603.76,63.90 602.20,66.30 603.76,68.70 600.90,68.55 599.60,71.10 598.30,68.55 595.44,68.70 597.00,66.30 595.44,63.90 598.30,64.05" fill="#A2142F"/>
<text x="614.3" y="71.10" font-size="14" fill="#000" stroke="#000" stroke-width="0.25">GS</text>
<line x1="587.3" y1="84.35" x2="611.9" y2="84.35" stroke="#000000" stroke-width="2.7"/>
<polygon points="599.60,89.55 604.10,81.75 595.10,81.75" fill="#000000"/>
<text x="614.3" y="89.15" font-size="14" fill="#000" stroke="#000" stroke-width="0.25">AMP</text>
<line x1="587.3" y1="102.40" x2="611.9" y2="102.40" stroke="#F00000" stroke-width="2.7"/>
<polygon points="599.60,97.20 604.10,105.00 595.10,105.00" fill="#F00000"/>
<text x="614.3" y="107.20" font-size="14" fill="#000" stroke="#000" stroke-width="0.25">MLD</text>
<line x1="587.3" y1="120.45" x2="611.9" y2="120.45" stroke="#7A2893" stroke-width="2.7"/>
<polygon points="604.80,120.45 597.00,115.95 597.00,124.95" fill="#7A2893"/>
<text x="614.3" y="125.25" font-size="14" fill="#000" stroke="#000" stroke-width="0.25">MMSE</text>
<line x1="587.3" y1="138.50" x2="611.9" y2="138.50" stroke="#1206CA" stroke-width="2.7"/>
<polygon points="594.40,138.50 602.20,134.00 602.20,143.00" fill="#1206CA"/>
<text x="614.3" y="143.30" font-size="14" fill="#000" stroke="#000" stroke-width="0.25">SIC-RL</text>
</g>
</svg>
</body></html>
